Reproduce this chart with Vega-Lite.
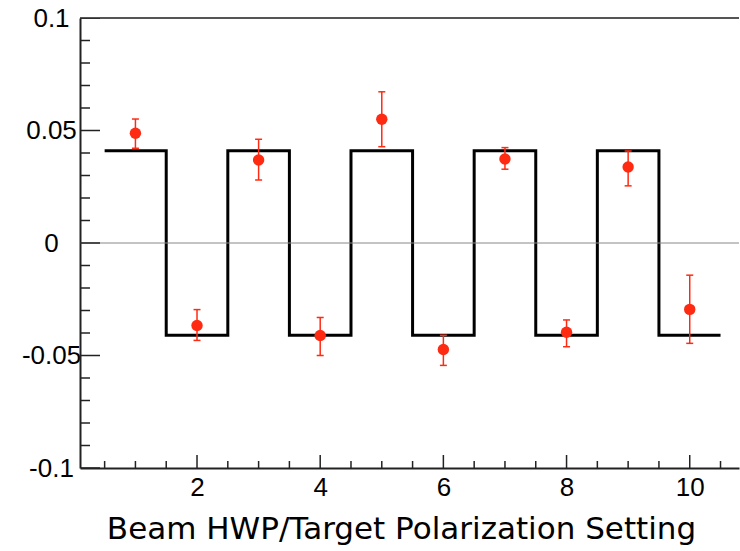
{
  "$schema": "https://vega.github.io/schema/vega-lite/v6.json",
  "width": 659,
  "height": 450,
  "autosize": {"type": "none"},
  "padding": {"left": 80, "top": 18, "right": 1, "bottom": 83},
  "background": "white",
  "config": {
    "view": {"stroke": null},
    "axis": {
      "domainColor": "#222",
      "domainWidth": 2,
      "ticks": false,
      "labelFont": "Liberation Sans",
      "labelFontSize": 26,
      "labelColor": "#000",
      "grid": false
    }
  },
  "datasets": {
    "yMinor": [{"v": -0.09}, {"v": -0.08}, {"v": -0.07}, {"v": -0.06}, {"v": -0.04}, {"v": -0.03}, {"v": -0.02}, {"v": -0.01}, {"v": 0.01}, {"v": 0.02}, {"v": 0.03}, {"v": 0.04}, {"v": 0.06}, {"v": 0.07}, {"v": 0.08}, {"v": 0.09}],
    "yMajor": [{"v": -0.1}, {"v": -0.05}, {"v": 0}, {"v": 0.05}, {"v": 0.1}],
    "xMinor": [{"v": 0.5}, {"v": 1}, {"v": 1.5}, {"v": 2.5}, {"v": 3}, {"v": 3.5}, {"v": 4.5}, {"v": 5}, {"v": 5.5}, {"v": 6.5}, {"v": 7}, {"v": 7.5}, {"v": 8.5}, {"v": 9}, {"v": 9.5}, {"v": 10.5}],
    "xMajor": [{"v": 2}, {"v": 4}, {"v": 6}, {"v": 8}, {"v": 10}]
  },
  "layer": [
    {
      "data": {"values": [
        {"x": 0.5, "y": 0.041},
        {"x": 1.5, "y": -0.041},
        {"x": 2.5, "y": 0.041},
        {"x": 3.5, "y": -0.041},
        {"x": 4.5, "y": 0.041},
        {"x": 5.5, "y": -0.041},
        {"x": 6.5, "y": 0.041},
        {"x": 7.5, "y": -0.041},
        {"x": 8.5, "y": 0.041},
        {"x": 9.5, "y": -0.041},
        {"x": 10.5, "y": -0.041}
      ]},
      "mark": {"type": "line", "interpolate": "step-after", "color": "#000", "strokeWidth": 3},
      "encoding": {
        "x": {
          "field": "x", "type": "quantitative",
          "scale": {"domain": [0.1, 10.8], "nice": false, "zero": false},
          "axis": {
            "title": "Beam HWP/Target Polarization Setting",
            "titleFont": "DejaVu Sans",
            "titleFontSize": 31,
            "titleFontWeight": "normal",
            "titleColor": "#000",
            "titleBaseline": "alphabetic",
            "titleAlign": "center",
            "titleAnchor": null,
            "titleX": 321,
            "titleY": 70,
            "values": [2, 4, 6, 8, 10],
            "labelExpr": "'' + datum.value",
            "labelPadding": 6,
            "labelFlush": false,
            "labelOverlap": false
          }
        },
        "y": {
          "field": "y", "type": "quantitative",
          "scale": {"domain": [-0.1, 0.1], "nice": false, "zero": false},
          "axis": {
            "title": null,
            "values": [-0.1, -0.05, 0, 0.05, 0.1],
            "labelExpr": "'' + datum.value",
            "labelAlign": "center",
            "labelPadding": 29,
            "labelFlush": false,
            "labelOverlap": false
          }
        }
      }
    },
    {
      "data": {"values": [{"y": 0.1}]},
      "mark": {"type": "rule", "color": "#555", "strokeWidth": 2},
      "encoding": {"y": {"field": "y", "type": "quantitative"}}
    },
    {
      "data": {"values": [{"y": 0}]},
      "mark": {"type": "rule", "color": "#888", "strokeWidth": 1},
      "encoding": {"y": {"field": "y", "type": "quantitative"}}
    },
    {
      "data": {"name": "yMinor"},
      "mark": {"type": "tick", "orient": "horizontal", "color": "#222", "thickness": 1.5, "size": 20, "clip": true, "opacity": 1},
      "encoding": {
        "x": {"datum": 0.1, "type": "quantitative"},
        "y": {"field": "v", "type": "quantitative"}
      }
    },
    {
      "data": {"name": "yMajor"},
      "mark": {"type": "tick", "orient": "horizontal", "color": "#222", "thickness": 1.5, "size": 40, "clip": true, "opacity": 1},
      "encoding": {
        "x": {"datum": 0.1, "type": "quantitative"},
        "y": {"field": "v", "type": "quantitative"}
      }
    },
    {
      "data": {"name": "xMinor"},
      "mark": {"type": "tick", "orient": "vertical", "color": "#222", "thickness": 1.5, "size": 14, "clip": true, "opacity": 1},
      "encoding": {
        "x": {"field": "v", "type": "quantitative"},
        "y": {"datum": -0.1, "type": "quantitative"}
      }
    },
    {
      "data": {"name": "xMajor"},
      "mark": {"type": "tick", "orient": "vertical", "color": "#222", "thickness": 1.5, "size": 26, "clip": true, "opacity": 1},
      "encoding": {
        "x": {"field": "v", "type": "quantitative"},
        "y": {"datum": -0.1, "type": "quantitative"}
      }
    },
    {
      "data": {"values": [
        {"x": 1, "y": 0.0488, "lo": 0.0421, "hi": 0.0551},
        {"x": 2, "y": -0.0367, "lo": -0.0433, "hi": -0.0296},
        {"x": 3, "y": 0.0369, "lo": 0.028, "hi": 0.0461},
        {"x": 4, "y": -0.0411, "lo": -0.05, "hi": -0.0331},
        {"x": 5, "y": 0.055, "lo": 0.0428, "hi": 0.0672},
        {"x": 6, "y": -0.0473, "lo": -0.0544, "hi": -0.041},
        {"x": 7, "y": 0.0373, "lo": 0.0328, "hi": 0.0424},
        {"x": 8, "y": -0.0397, "lo": -0.0461, "hi": -0.0342},
        {"x": 9, "y": 0.0338, "lo": 0.0254, "hi": 0.0409},
        {"x": 10, "y": -0.0295, "lo": -0.0446, "hi": -0.0143}
      ]},
      "layer": [
        {
          "mark": {"type": "rule", "color": "#ff2a12", "strokeWidth": 1.5},
          "encoding": {
            "x": {"field": "x", "type": "quantitative"},
            "y": {"field": "lo", "type": "quantitative"},
            "y2": {"field": "hi"}
          }
        },
        {
          "mark": {"type": "tick", "orient": "horizontal", "color": "#ff2a12", "thickness": 1.5, "size": 7, "opacity": 1},
          "encoding": {
            "x": {"field": "x", "type": "quantitative"},
            "y": {"field": "lo", "type": "quantitative"}
          }
        },
        {
          "mark": {"type": "tick", "orient": "horizontal", "color": "#ff2a12", "thickness": 1.5, "size": 7, "opacity": 1},
          "encoding": {
            "x": {"field": "x", "type": "quantitative"},
            "y": {"field": "hi", "type": "quantitative"}
          }
        },
        {
          "mark": {"type": "circle", "color": "#ff2a12", "opacity": 1, "size": 130},
          "encoding": {
            "x": {"field": "x", "type": "quantitative"},
            "y": {"field": "y", "type": "quantitative"}
          }
        }
      ]
    }
  ]
}
